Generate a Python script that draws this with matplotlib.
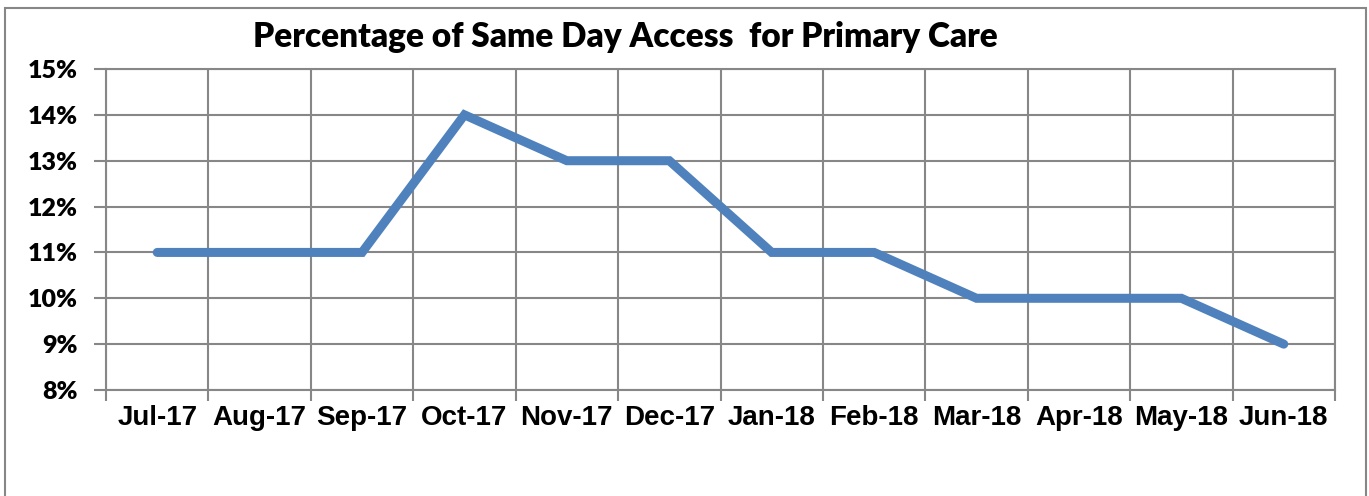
import numpy as np
import matplotlib.pyplot as plt
from matplotlib.patches import Rectangle
from matplotlib.ticker import FixedLocator, NullFormatter

months = ['Jul-17', 'Aug-17', 'Sep-17', 'Oct-17', 'Nov-17', 'Dec-17',
          'Jan-18', 'Feb-18', 'Mar-18', 'Apr-18', 'May-18', 'Jun-18']
same_day_pct = [11, 11, 11, 14, 13, 13, 11, 11, 10, 10, 10, 9]
y_ticks = [8, 9, 10, 11, 12, 13, 14, 15]

W, H = 1369, 496
fig = plt.figure(figsize=(W / 100, H / 100), dpi=100)
ax = fig.add_axes([106 / W, 1 - 390 / H, (1335 - 106) / W, (390 - 69) / H])

grid_c = '#878787'
x = np.arange(len(months))
ax.plot(x, same_day_pct, color='#4F81BD', linewidth=6.5, solid_capstyle='round',
        solid_joinstyle='miter', zorder=3)

ax.set_xlim(-0.5, len(months) - 0.5)
ax.set_ylim(8, 15)
ax.set_yticks(y_ticks)
ax.set_yticklabels([f'{v}%' for v in y_ticks], fontsize=18, fontweight='heavy',
                   family='Lato')
# category labels at centres, ticks and gridlines at boundaries
ax.set_xticks(x)
ax.set_xticklabels(months, fontsize=20, fontweight='bold', family='Liberation Sans')
ax.xaxis.set_minor_locator(FixedLocator(np.arange(-0.5, len(months), 1)))
ax.xaxis.set_minor_formatter(NullFormatter())
ax.tick_params(axis='x', which='major', length=0, pad=11)
ax.tick_params(axis='x', which='minor', length=8, width=1.5, color=grid_c)
ax.tick_params(axis='y', length=9, width=1.5, color=grid_c, pad=11)
ax.grid(True, axis='y', color=grid_c, linewidth=1.5)
ax.grid(True, axis='x', which='minor', color=grid_c, linewidth=1.5)
for s in ax.spines.values():
    s.set_color(grid_c)
    s.set_linewidth(1.5)

fig.text(625 / W, 1 - 37 / H, 'Percentage of Same Day Access  for Primary Care',
         ha='center', va='center', fontsize=24, fontweight='heavy', family='Lato')

fig.patches.append(Rectangle((5 / W, -0.05), (1366 - 5) / W, 1.05 - 8 / H,
                             transform=fig.transFigure, fill=False,
                             edgecolor=grid_c, linewidth=1.5))

fig.savefig('out.png', dpi=100)
